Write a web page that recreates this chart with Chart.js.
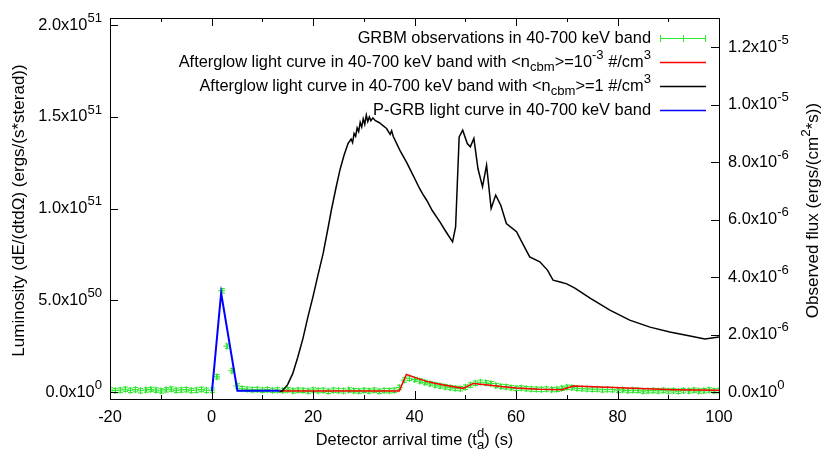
<!DOCTYPE html>
<html>
<head>
<meta charset="utf-8">
<script src="https://cdn.jsdelivr.net/npm/chart.js@4.4.0/dist/chart.umd.min.js"></script>
<style>
html, body { margin: 0; padding: 0; background: #fff; }
#wrap { width: 830px; height: 464px; }
</style>
</head>
<body>
<div id="wrap"><canvas id="lightCurve" width="830" height="464"></canvas></div>
<script>
// GRBM observations, 1 s bins from -20 s to 100 s (luminosity in units of 1e51)
const obsStart = -20;
const obsLum = [
  0.012, 0.008, 0.010, 0.015, 0.009, 0.013, 0.007, 0.011, 0.014, 0.010,
  0.006, 0.012, 0.016, 0.009, 0.011, 0.013, 0.008, 0.010, 0.014, 0.009,
  0.010, 0.083, 0.552, 0.250, 0.116, 0.033, 0.018, 0.015, 0.012, 0.014,
  0.010, 0.013, 0.009, 0.011,
  0.008, 0.012, 0.006, 0.010, 0.009, 0.005, 0.011, 0.007, 0.009, 0.004,
  0.010, 0.008, 0.006, 0.011, 0.007, 0.005, 0.009, 0.006, 0.010, 0.004,
  0.008, 0.007, 0.009,
  0.025, 0.065, 0.075, 0.068, 0.060, 0.052, 0.045, 0.038, 0.033, 0.028,
  0.024, 0.020, 0.018,
  0.026, 0.038, 0.048, 0.053, 0.050, 0.046, 0.035, 0.030, 0.028, 0.023,
  0.020, 0.022, 0.018, 0.016, 0.015, 0.014, 0.016, 0.013, 0.015,
  0.020, 0.026, 0.024, 0.020, 0.018, 0.017, 0.015, 0.016, 0.012, 0.014,
  0.013, 0.010, 0.012, 0.008, 0.010, 0.009, 0.005, 0.007, 0.008, 0.006,
  0.009, 0.005, 0.007, 0.004, 0.008, 0.006, 0.010, 0.005, 0.007, 0.011,
  0.006, 0.008
];
const obsErr = 0.012;
const obsTime = obsLum.map((v, i) => obsStart + i);

// afterglow, <n_cbm> = 1e-3
const lowTime = [13.4, 37.0, 38.4, 40.0, 42.4, 44.0, 46.3, 49.6, 51.6, 54.9, 57.0, 60.1, 64.7, 69.0, 71.3, 77.9, 84.4, 91.0, 100];
const lowLum  = [0.005, 0.006, 0.096, 0.080, 0.058, 0.048, 0.036, 0.020, 0.047, 0.037, 0.030, 0.022, 0.015, 0.012, 0.033, 0.026, 0.019, 0.013, 0.010];

// afterglow, <n_cbm> = 1
const highTime = [13.4, 14, 15, 16, 17, 18, 19, 20, 21, 22, 23, 23.6, 24.5, 25.3, 26.1, 26.9,
  27.5, 27.8, 28.1, 28.4, 28.7, 29.0, 29.3, 29.6, 29.9, 30.2, 30.5, 30.8, 31.1, 31.4, 31.8, 32.3, 33.0,
  34.5, 35.2, 35.5, 35.8, 37.1, 38.5, 39.7, 41.0, 41.6, 42.4, 43.5, 45.0, 46.3, 47.5, 48.1, 48.8, 49.5,
  50.4, 51.0, 51.7, 52.5, 53.4, 54.2, 55.1, 56.0, 57.0, 58.1, 60.1, 61.5, 62.7, 64.7, 66.2, 67.3, 68.7,
  70.0, 71.6, 74.6, 78.5, 82.4, 86.4, 90.3, 94.3, 97.2, 100];
const highLum = [0.000, 0.008, 0.040, 0.100, 0.190, 0.290, 0.410, 0.520, 0.640, 0.756, 0.900, 0.990, 1.110, 1.210, 1.290, 1.355,
  1.380, 1.360, 1.410, 1.395, 1.440, 1.420, 1.470, 1.445, 1.490, 1.460, 1.510, 1.475, 1.500, 1.480, 1.495, 1.480, 1.470,
  1.437, 1.405, 1.425, 1.395, 1.319, 1.250, 1.183, 1.110, 1.080, 1.046, 0.990, 0.928, 0.870, 0.819, 0.900, 1.391, 1.428,
  1.355, 1.337, 1.383, 1.219, 1.119, 1.237, 1.001, 1.074, 1.019, 0.919, 0.874, 0.800, 0.737, 0.710, 0.665, 0.610, 0.600,
  0.590, 0.567, 0.512, 0.447, 0.392, 0.354, 0.327, 0.305, 0.289, 0.300];

// P-GRB
const pgrbTime = [0.1, 1.9, 5.1, 13.4];
const pgrbLum  = [0.005, 0.540, 0.007, 0.007];

// axes
const timeTicks = [-20, -10, 0, 10, 20, 30, 40, 50, 60, 70, 80, 90, 100];
const timeLabels = ['-20', '', '0', '', '20', '', '40', '', '60', '', '80', '', '100'];
const lumTicks = [0, 0.5, 1.0, 1.5, 2.0];
const lumLabels = [['0.0x10', '0'], ['5.0x10', '50'], ['1.0x10', '51'], ['1.5x10', '51'], ['2.0x10', '51']];
const fluxTicks = [0, 2, 4, 6, 8, 10, 12]; // units of 1e-6
const fluxLabels = [['0.0x10', '0'], ['2.0x10', '-6'], ['4.0x10', '-6'], ['6.0x10', '-6'], ['8.0x10', '-6'], ['1.0x10', '-5'], ['1.2x10', '-5']];

const GREEN = 'rgb(45,230,45)';
const FONT = '"Liberation Sans", Arial, Helvetica, sans-serif';
const FS = 16.4;

function pts(xs, ys) { return xs.map((x, i) => ({ x: x, y: ys[i] })); }

function partWidth(ctx, p, size) {
  if (typeof p === 'string') { ctx.font = size + 'px ' + FONT; return ctx.measureText(p).width; }
  ctx.font = (size * 0.8).toFixed(1) + 'px ' + FONT;
  const a = p.sup ? ctx.measureText(p.sup).width : 0;
  const b = p.sub ? ctx.measureText(p.sub).width : 0;
  return Math.max(a, b);
}
function richWidth(ctx, parts, size) {
  return parts.reduce((w, p) => w + partWidth(ctx, p, size), 0);
}
function drawRich(ctx, parts, x, y, align, size) {
  size = size || FS;
  const w = richWidth(ctx, parts, size);
  let cx = align === 'right' ? x - w : align === 'center' ? x - w / 2 : x;
  ctx.textBaseline = 'middle';
  ctx.textAlign = 'left';
  ctx.fillStyle = '#000';
  parts.forEach(p => {
    if (typeof p === 'string') {
      ctx.font = size + 'px ' + FONT;
      ctx.fillText(p, cx, y);
    } else {
      ctx.font = (size * 0.8).toFixed(1) + 'px ' + FONT;
      if (p.sup) ctx.fillText(p.sup, cx, y - size * 0.42);
      if (p.sub) ctx.fillText(p.sub, cx, y + size * 0.32);
    }
    cx += partWidth(ctx, p, size);
  });
}

const legendItems = [
  { parts: ['GRBM observations in 40-700 keV band'], color: GREEN, bars: true },
  { parts: ['Afterglow light curve in 40-700 keV band with <n', { sub: 'cbm' }, '>=10', { sup: '-3' }, ' #/cm', { sup: '3' }], color: 'rgb(255,0,0)' },
  { parts: ['Afterglow light curve in 40-700 keV band with <n', { sub: 'cbm' }, '>=1 #/cm', { sup: '3' }], color: '#000' },
  { parts: ['P-GRB light curve in 40-700 keV band'], color: 'rgb(0,0,255)' }
];

// error bars of the observations, drawn right after that dataset
const errorBars = {
  id: 'errorBars',
  afterDatasetDraw(chart, args) {
    if (args.index !== 0) return;
    const ctx = chart.ctx, x = chart.scales.x, y = chart.scales.y, a = chart.chartArea;
    ctx.save();
    ctx.beginPath();
    ctx.rect(a.left, a.top, a.right - a.left, a.bottom - a.top);
    ctx.clip();
    ctx.strokeStyle = GREEN;
    ctx.lineWidth = 1;
    ctx.beginPath();
    obsTime.forEach((t, i) => {
      const px = Math.round(x.getPixelForValue(t)) + 0.5;
      const y1 = y.getPixelForValue(obsLum[i] - obsErr);
      const y2 = y.getPixelForValue(obsLum[i] + obsErr);
      ctx.moveTo(px, y1); ctx.lineTo(px, y2);
      ctx.moveTo(px - 2.5, y1); ctx.lineTo(px + 2.5, y1);
      ctx.moveTo(px - 2.5, y2); ctx.lineTo(px + 2.5, y2);
    });
    ctx.stroke();
    ctx.restore();
  }
};

// gnuplot style frame, inward ticks, labels, titles and key
const frame = {
  id: 'frame',
  afterDraw(chart) {
    const ctx = chart.ctx, a = chart.chartArea;
    const x = chart.scales.x, y = chart.scales.y, y2 = chart.scales.y2;
    ctx.save();
    ctx.strokeStyle = '#000';
    ctx.lineWidth = 1;
    ctx.strokeRect(Math.round(a.left) + 0.5, Math.round(a.top) + 0.5, Math.round(a.right - a.left), Math.round(a.bottom - a.top));

    ctx.beginPath();
    timeTicks.forEach((t, i) => {
      const px = Math.round(x.getPixelForValue(t)) + 0.5;
      const len = timeLabels[i] ? 8 : 4;
      ctx.moveTo(px, a.bottom); ctx.lineTo(px, a.bottom - len);
      ctx.moveTo(px, a.top); ctx.lineTo(px, a.top + len);
    });
    lumTicks.forEach(v => {
      const py = Math.round(y.getPixelForValue(v)) + 0.5;
      ctx.moveTo(a.left, py); ctx.lineTo(a.left + 8, py);
    });
    fluxTicks.forEach(v => {
      const py = Math.round(y2.getPixelForValue(v)) + 0.5;
      ctx.moveTo(a.right, py); ctx.lineTo(a.right - 8, py);
    });
    ctx.stroke();

    timeTicks.forEach((t, i) => {
      if (timeLabels[i]) drawRich(ctx, [timeLabels[i]], x.getPixelForValue(t), a.bottom + 18, 'center');
    });
    lumTicks.forEach((v, i) => {
      drawRich(ctx, [lumLabels[i][0], { sup: lumLabels[i][1] }], a.left - 8, y.getPixelForValue(v), 'right');
    });
    fluxTicks.forEach((v, i) => {
      drawRich(ctx, [fluxLabels[i][0], { sup: fluxLabels[i][1] }], a.right + 9, y2.getPixelForValue(v), 'left');
    });

    drawRich(ctx, ['Detector arrival time (t', { sub: 'a', sup: 'd' }, ') (s)'], (a.left + a.right) / 2, 440, 'center');
    const midY = (a.top + a.bottom) / 2 + 2;
    ctx.save();
    ctx.translate(19, midY);
    ctx.rotate(-Math.PI / 2);
    drawRich(ctx, ['Luminosity (dE/(dtd\u03A9) (ergs/(s*sterad))'], 0, 0, 'center', 17);
    ctx.restore();
    ctx.save();
    ctx.translate(813, midY);
    ctx.rotate(-Math.PI / 2);
    drawRich(ctx, ['Observed flux (ergs/(cm', { sup: '2' }, '*s))'], 0, 0, 'center', 17);
    ctx.restore();

    // key
    legendItems.forEach((item, i) => {
      const ly = 38 + i * 24;
      drawRich(ctx, item.parts, 651, ly, 'right');
      ctx.strokeStyle = item.color;
      ctx.lineWidth = item.bars ? 1 : 1.5;
      ctx.beginPath();
      ctx.moveTo(660, ly + 0.5); ctx.lineTo(706, ly + 0.5);
      if (item.bars) {
        ctx.moveTo(660.5, ly - 3); ctx.lineTo(660.5, ly + 4);
        ctx.moveTo(705.5, ly - 3); ctx.lineTo(705.5, ly + 4);
        ctx.moveTo(683.5, ly - 3); ctx.lineTo(683.5, ly + 4);
      }
      ctx.stroke();
    });
    ctx.restore();
  }
};

const hidden = { display: false };
const ctx = document.getElementById('lightCurve').getContext('2d');
const lightCurve = new Chart(ctx, {
  type: 'line',
  data: {
    datasets: [
      {
        label: 'GRBM observations',
        data: pts(obsTime, obsLum),
        showLine: false,
        pointStyle: 'cross',
        pointRadius: 3.5,
        borderColor: GREEN,
        backgroundColor: GREEN,
        borderWidth: 1,
        order: 4
      },
      {
        label: 'Afterglow n=1e-3',
        data: pts(lowTime, lowLum),
        borderColor: 'rgb(255,0,0)',
        borderWidth: 1.5,
        pointRadius: 0,
        order: 3
      },
      {
        label: 'Afterglow n=1',
        data: pts(highTime, highLum),
        borderColor: '#000',
        borderWidth: 1.5,
        pointRadius: 0,
        order: 2
      },
      {
        label: 'P-GRB',
        data: pts(pgrbTime, pgrbLum),
        borderColor: 'rgb(0,0,255)',
        borderWidth: 2,
        pointRadius: 0,
        order: 1
      }
    ]
  },
  options: {
    responsive: false,
    animation: false,
    layout: { padding: { top: 18, left: 0, right: 0, bottom: 0 } },
    plugins: { legend: hidden, tooltip: { enabled: false } },
    scales: {
      x: {
        type: 'linear', position: 'bottom', min: -20, max: 100,
        grid: hidden, border: hidden, ticks: { display: false },
        afterFit: s => { s.height = 65; }
      },
      y: {
        type: 'linear', position: 'left', min: -0.0381, max: 2.0398,
        grid: hidden, border: hidden, ticks: { display: false },
        afterFit: s => { s.width = 110; }
      },
      y2: {
        type: 'linear', position: 'right', min: -0.2435, max: 13.019,
        grid: hidden, border: hidden, ticks: { display: false },
        afterFit: s => { s.width = 111; }
      }
    }
  },
  plugins: [errorBars, frame]
});
</script>
</body>
</html>
